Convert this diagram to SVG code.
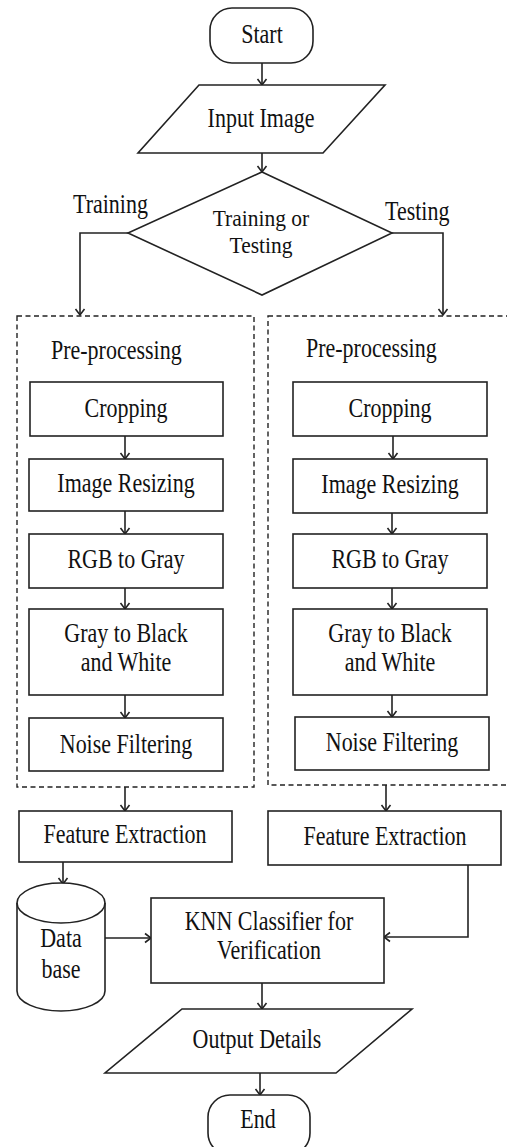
<svg xmlns="http://www.w3.org/2000/svg" width="507" height="1147" viewBox="0 0 507 1147">
<style>
.s{fill:#fff;stroke:#222;stroke-width:1.6}
.d{fill:none;stroke:#222;stroke-width:1.4;stroke-dasharray:5,3.5}
.c{fill:none;stroke:#222;stroke-width:1.6}
text{font-family:'Liberation Serif','Times New Roman','DejaVu Serif',serif;font-size:22px;fill:#111;text-anchor:middle}
.l{text-anchor:start}
</style>
<defs>
<marker id="a" markerWidth="12" markerHeight="12" refX="9" refY="6" orient="auto" markerUnits="userSpaceOnUse">
<polyline points="3,1.5 9,6 3,10.5" fill="none" stroke="#222" stroke-width="1.6"/>
</marker>
</defs>
<rect width="507" height="1147" fill="#fff"/>
<g id="connectors">
<line class="c" x1="262" y1="63" x2="262" y2="85" marker-end="url(#a)"/>
<line class="c" x1="262" y1="153" x2="262" y2="172" marker-end="url(#a)"/>
<polyline class="c" points="128,233 80,233 80,315" marker-end="url(#a)"/>
<polyline class="c" points="392,233 443,233 443,315" marker-end="url(#a)"/>
<line class="c" x1="125" y1="436" x2="125" y2="459" marker-end="url(#a)"/>
<line class="c" x1="125" y1="511" x2="125" y2="534" marker-end="url(#a)"/>
<line class="c" x1="125" y1="588" x2="125" y2="609" marker-end="url(#a)"/>
<line class="c" x1="125" y1="695" x2="125" y2="718" marker-end="url(#a)"/>
<line class="c" x1="393" y1="436" x2="393" y2="459" marker-end="url(#a)"/>
<line class="c" x1="392" y1="513" x2="392" y2="534" marker-end="url(#a)"/>
<line class="c" x1="392" y1="588" x2="392" y2="609" marker-end="url(#a)"/>
<line class="c" x1="392" y1="695" x2="392" y2="717" marker-end="url(#a)"/>
<line class="c" x1="125" y1="787" x2="125" y2="811" marker-end="url(#a)"/>
<line class="c" x1="386" y1="785" x2="386" y2="811" marker-end="url(#a)"/>
<line class="c" x1="63" y1="862" x2="63" y2="884" marker-end="url(#a)"/>
<line class="c" x1="105" y1="938" x2="151" y2="938" marker-end="url(#a)"/>
<polyline class="c" points="468,865 468,937 384,937" marker-end="url(#a)"/>
<line class="c" x1="262" y1="983" x2="262" y2="1009" marker-end="url(#a)"/>
<line class="c" x1="260" y1="1073" x2="260" y2="1095" marker-end="url(#a)"/>
</g>
<g id="start">
<rect class="s" x="210" y="8" width="103" height="55" rx="22"/>
<text transform="translate(262,43) scale(1,1.2)">Start</text>
</g>
<g id="input">
<polygon class="s" points="199,85 385,85 323,153 138,153"/>
<text transform="translate(261,127) scale(1,1.2)">Input Image</text>
</g>
<g id="decision">
<polygon class="s" points="262,172 392,233 262,295 128,233"/>
<text transform="translate(261,226) scale(1,1.12)" style="font-size:21.5px">Training or</text>
<text transform="translate(261,253) scale(1,1.12)" style="font-size:21.5px">Testing</text>
</g>
<g id="labels">
<text class="l" transform="translate(73,213) scale(1,1.2)">Training</text>
<text class="l" transform="translate(385,220) scale(1,1.2)">Testing</text>
</g>
<g id="train-pre">
<rect class="d" x="17" y="316" width="237" height="471"/>
<text class="l" transform="translate(51,359) scale(1,1.2)">Pre-processing</text>
</g>
<g id="test-pre">
<rect class="d" x="268" y="316" width="250" height="469"/>
<text class="l" transform="translate(306,357) scale(1,1.2)">Pre-processing</text>
</g>
<g id="l-crop"><rect class="s" x="30" y="382" width="193" height="54"/><text transform="translate(126,417) scale(1,1.2)">Cropping</text></g>
<g id="l-resize"><rect class="s" x="29" y="459" width="194" height="52"/><text transform="translate(126,492) scale(1,1.2)">Image Resizing</text></g>
<g id="l-gray"><rect class="s" x="29" y="534" width="194" height="54"/><text transform="translate(126,568) scale(1,1.2)">RGB to Gray</text></g>
<g id="l-bw"><rect class="s" x="29" y="609" width="194" height="86"/><text transform="translate(126,642) scale(1,1.2)">Gray to Black</text><text transform="translate(126,671) scale(1,1.2)">and White</text></g>
<g id="l-noise"><rect class="s" x="29" y="718" width="194" height="53"/><text transform="translate(126,753) scale(1,1.2)">Noise Filtering</text></g>
<g id="r-crop"><rect class="s" x="293" y="382" width="194" height="54"/><text transform="translate(390,417) scale(1,1.2)">Cropping</text></g>
<g id="r-resize"><rect class="s" x="293" y="459" width="194" height="54"/><text transform="translate(390,493) scale(1,1.2)">Image Resizing</text></g>
<g id="r-gray"><rect class="s" x="293" y="534" width="194" height="54"/><text transform="translate(390,568) scale(1,1.2)">RGB to Gray</text></g>
<g id="r-bw"><rect class="s" x="293" y="609" width="194" height="86"/><text transform="translate(390,642) scale(1,1.2)">Gray to Black</text><text transform="translate(390,671) scale(1,1.2)">and White</text></g>
<g id="r-noise"><rect class="s" x="295" y="717" width="194" height="53"/><text transform="translate(392,751) scale(1,1.2)">Noise Filtering</text></g>
<g id="l-feature"><rect class="s" x="19" y="811" width="213" height="51"/><text transform="translate(125,843) scale(1,1.2)">Feature Extraction</text></g>
<g id="r-feature"><rect class="s" x="268" y="811" width="233" height="54"/><text transform="translate(385,845) scale(1,1.2)">Feature Extraction</text></g>
<g id="database">
<path class="s" d="M17,903 A44,20 0 0 1 105,903 L105,991 A44,20 0 0 1 17,991 Z"/>
<path class="c" d="M17,903 A44,20 0 0 0 105,903"/>
<text transform="translate(61,947) scale(1,1.2)">Data</text>
<text transform="translate(61,978) scale(1,1.2)">base</text>
</g>
<g id="knn">
<rect class="s" x="151" y="898" width="233" height="85"/>
<text transform="translate(269,930) scale(1,1.2)">KNN Classifier for</text>
<text transform="translate(269,959) scale(1,1.2)">Verification</text>
</g>
<g id="output">
<polygon class="s" points="182,1009 412,1009 336,1073 105,1073"/>
<text transform="translate(257,1048) scale(1,1.2)">Output Details</text>
</g>
<g id="end">
<rect class="s" x="208" y="1095" width="102" height="60" rx="22"/>
<text transform="translate(258,1128) scale(1,1.2)">End</text>
</g>
</svg>
